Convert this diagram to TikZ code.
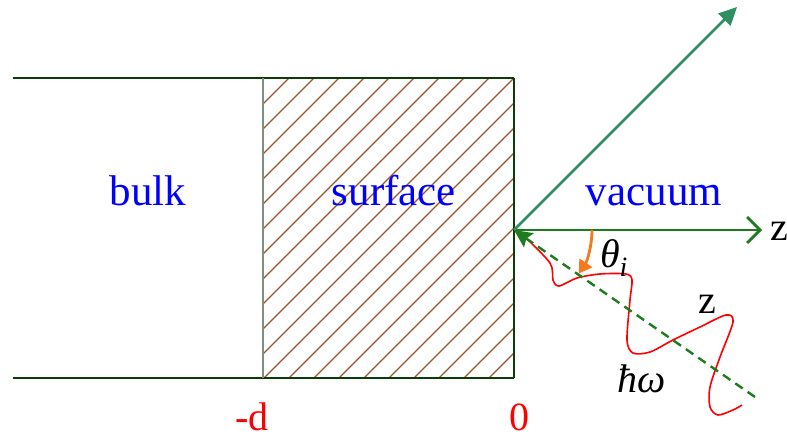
\documentclass[tikz,border=0pt]{standalone}
\usepackage{fontspec}
\setmainfont{Liberation Serif}
\usetikzlibrary{arrows.meta}
\definecolor{Edge}{HTML}{0A3D0A}
\definecolor{Divide}{HTML}{7F8F7F}
\definecolor{Hatch}{HTML}{A0522D}
\definecolor{Axis}{HTML}{1E7B1E}
\definecolor{Ray}{HTML}{2E9060}
\definecolor{Turn}{HTML}{F47A20}
\tikzset{
  wall/.style={draw=Edge,line width=2.8pt},
  split/.style={draw=Divide,line width=2.2pt},
  hatch/.style={draw=Hatch,line width=1.3pt},
  axis/.style={draw=Axis,line width=2.8pt,-{Straight Barb[length=13pt,width=26pt]}},
  ray/.style={draw=Ray,line width=2.8pt,-{Triangle[length=18pt,width=17pt]}},
  beam/.style={draw=Axis,line width=2.4pt,dash pattern=on 9pt off 6pt,-{Stealth[length=18pt,width=17pt,inset=3pt]}},
  wave/.style={draw=red,line width=1.6pt},
  turn/.style={draw=Turn,line width=2.8pt,-{Triangle[length=13pt,width=15pt]}},
  region/.style={font=\fontsize{43}{43}\selectfont,text=blue,inner sep=0pt,anchor=base},
  mark0/.style={font=\fontsize{40}{40}\selectfont,text=red,inner sep=0pt,anchor=base},
  sym/.style={font=\fontsize{40}{40}\selectfont\itshape,inner sep=0pt,anchor=base}
}
\begin{document}
\begin{tikzpicture}[x=1pt,y=-1pt]
  \useasboundingbox (0,0) rectangle (787,439);
  % layers
  \begin{scope}
    \clip (263,78) rectangle (514,378);
    \foreach \c in {342,367,...,917}
      \draw[hatch] (\c-378,378) -- (\c-78,78);
  \end{scope}
  \draw[wall] (13,78) -- (514,78);
  \draw[wall] (13,378) -- (514,378);
  \draw[split] (263,78) -- (263,378);
  \draw[wall] (514,78) -- (514,378);
  \node[region] (bulk) at (148,205) {bulk};
  \node[region] (surf) at (394,205) {surface};
  \node[region] (vac) at (654,205) {vacuum};
  \node[mark0] (depth) at (252,430) {-d};
  \node[mark0] (zero) at (519,430) {0};
  % beams
  \coordinate (O) at (514,230);
  \coordinate (zend) at (762,230);
  \coordinate (rend) at (737,7);
  \coordinate (inc) at (755,397);
  \coordinate (a0) at (592,230);
  \draw[axis] (O) -- (zend);
  \draw[ray] (O) -- (rend);
  \draw[wave] plot[smooth,tension=0.5] coordinates {(524,236) (550,263) (553,280) (559,286)
    (577,278) (600,274) (626,274) (632,280) (630,300) (627,340) (633,353) (650,352)
    (673,340) (700,327) (726,315) (733,322) (720,357) (710,387) (710,407) (718,415)
    (733,410) (742,405)};
  \draw[beam] (inc) -- (O);
  \draw[turn] (a0) arc[start angle=0,end angle=34,radius=78];
  \node[sym] (theta) at (614,267) {θ\textsubscript{i}};
  \node[sym] (hw) at (642,392) {ħω};
  \node[sym,font=\fontsize{40}{40}\selectfont] (zax) at (779,240) {z};
  \node[sym,font=\fontsize{40}{40}\selectfont] (zbeam) at (707,313) {z};
\end{tikzpicture}
\end{document}
